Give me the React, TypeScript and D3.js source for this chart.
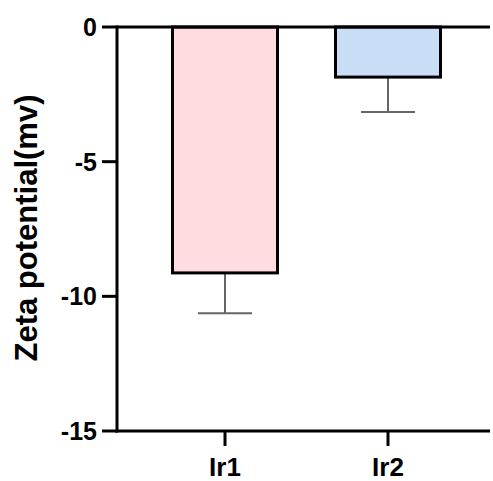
import React from "react";
import * as d3 from "d3";

const categories = ["Ir1", "Ir2"];
const means = [-9.13, -1.86];
const sds = [1.5, 1.3];
const fills = ["#FEDDE0", "#C9DDF6"];
const yTicks = [0, -5, -10, -15];
const yTitle = "Zeta potential(mv)";

const W = 493;
const H = 481;
const axisX = 117;
const rightX = 490;
const font = "'Liberation Sans', Arial, Helvetica, sans-serif";

export default function App() {
  const y = d3.scaleLinear().domain([-15, 0]).range([431, 27]);
  const x = d3.scalePoint<string>().domain(categories).range([225, 388]);
  const barW = 105;
  const capW = 54;

  return (
    <svg
      width={W}
      height={H}
      style={{ position: "absolute", left: 0, top: 0, background: "#fff" }}
    >
      {categories.map((c, i) => {
        const cx = x(c)!;
        const top = y(0);
        const bot = y(means[i]);
        const errY = y(means[i] - sds[i]);
        return (
          <g key={c}>
            <line x1={cx} x2={cx} y1={bot} y2={errY} stroke="#666" strokeWidth={2} />
            <line
              x1={cx - capW / 2}
              x2={cx + capW / 2}
              y1={errY}
              y2={errY}
              stroke="#666"
              strokeWidth={2}
            />
            <rect
              x={cx - barW / 2}
              y={top}
              width={barW}
              height={bot - top}
              fill={fills[i]}
              stroke="#000"
              strokeWidth={3}
            />
          </g>
        );
      })}
      <line x1={axisX} x2={rightX} y1={y(0)} y2={y(0)} stroke="#000" strokeWidth={3} />
      <line x1={axisX - 1.5} x2={rightX} y1={y(-15)} y2={y(-15)} stroke="#000" strokeWidth={3} />
      {categories.map((c) => (
        <g key={c}>
          <line x1={x(c)!} x2={x(c)!} y1={y(-15)} y2={y(-15) + 15} stroke="#000" strokeWidth={3} />
          <text
            x={x(c)!}
            y={476}
            textAnchor="middle"
            fontFamily={font}
            fontWeight="bold"
            fontSize={26}
            fill="#000"
          >
            {c}
          </text>
        </g>
      ))}
      <line x1={axisX} x2={axisX} y1={y(0) - 1.5} y2={y(-15) + 1.5} stroke="#000" strokeWidth={3} />
      {yTicks.map((t) => (
        <g key={t}>
          <line x1={axisX - 15} x2={axisX} y1={y(t)} y2={y(t)} stroke="#000" strokeWidth={3} />
          <text
            x={97}
            y={y(t)}
            dy="0.36em"
            textAnchor="end"
            fontFamily={font}
            fontWeight="bold"
            fontSize={25}
            fill="#000"
          >
            {t}
          </text>
        </g>
      ))}
      <text
        transform={`translate(37,228) rotate(-90)`}
        textAnchor="middle"
        fontFamily={font}
        fontWeight="bold"
        fontSize={31}
        fill="#000"
      >
        {yTitle}
      </text>
    </svg>
  );
}
